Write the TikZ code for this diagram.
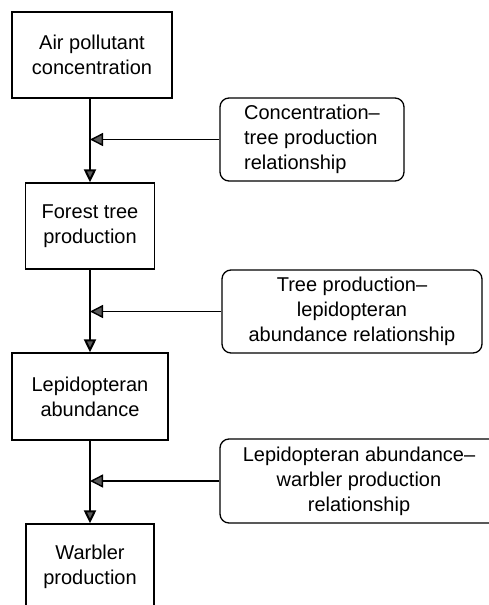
\documentclass[tikz,border=0pt]{standalone}
\usepackage{fontspec}
\setmainfont{Liberation Sans}
\usetikzlibrary{positioning,calc,arrows.meta}

\begin{document}
\begin{tikzpicture}[x=1pt, y=-1pt,
    stage/.style={draw, line width=1.3pt, align=center, inner sep=0pt, font=\fontsize{20}{25}\selectfont},
    rel/.style={draw, line width=1.3pt, rounded corners=9pt, inner sep=0pt, font=\fontsize{20}{25}\selectfont},
    arrow/.style={-{Triangle[length=13pt, width=12pt, fill=black!65]}, line width=2pt},
    feed/.style={-{Triangle[length=13pt, width=13pt, fill=black!65]}, line width=1.4pt},
]
\useasboundingbox (0,0) rectangle (489,605);

% Main chain
\node[stage, minimum width=160pt, minimum height=86pt] (air) at (92, 55) {Air pollutant\\concentration};
\node[stage, minimum width=129pt, minimum height=86pt] (tree) at (90, 226) {Forest tree\\production};
\node[stage, minimum width=156pt, minimum height=87pt] (lep) at (90, 396.5) {Lepidopteran\\abundance};
\node[stage, minimum width=128pt, minimum height=86pt] (warb) at (90, 567) {Warbler\\production};

% Relationships
\node[rel, align=left, minimum width=184pt, minimum height=83pt] (r1) at (312, 139.5) {Concentration\textendash\\tree production\\relationship};
\node[rel, align=center, minimum width=260pt, minimum height=83pt] (r2) at (352, 311.5) {Tree production\textendash\\lepidopteran\\abundance relationship};
\node[rel, align=center, minimum width=278pt, minimum height=84pt] (r3) at (359, 481) {Lepidopteran abundance\textendash\\warbler production\\relationship};

% Chain arrows
\draw[arrow] (air.south -| tree.north) -- (tree.north);
\draw[arrow] (tree.south) -- (tree.south |- lep.north);
\draw[arrow] (lep.south) -- (lep.south |- warb.north);

% Relationship arrows
\draw[feed] (r1.west) -- (r1.west -| tree.north);
\draw[feed] (r2.west) -- (r2.west -| tree.south);
\draw[feed] (r3.west) -- (r3.west -| lep.south);
\end{tikzpicture}
\end{document}
